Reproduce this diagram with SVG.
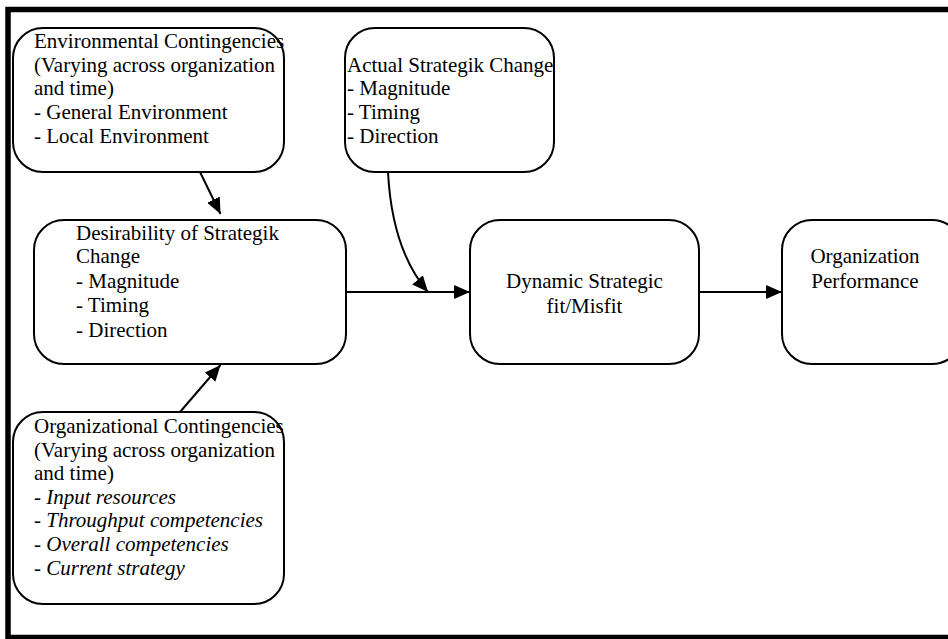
<svg xmlns="http://www.w3.org/2000/svg" width="948" height="639" viewBox="0 0 948 639">
<style>
.box{fill:#fff;stroke:#000;stroke-width:2}
.t{font-family:"Liberation Serif","Times New Roman",serif;font-size:21px;fill:#000}
.i{font-style:italic}
.c{stroke:#000;stroke-width:2;fill:none}
</style>
<defs>
<marker id="ah" viewBox="0 0 16 14" refX="16" refY="7" markerWidth="16" markerHeight="14" markerUnits="userSpaceOnUse" orient="auto">
<path d="M0,0 L16,7 L0,14 Z" fill="#000"/>
</marker>
</defs>
<rect x="0" y="0" width="948" height="639" fill="#fff"/>
<rect x="8" y="9.5" width="960" height="628" fill="none" stroke="#000" stroke-width="5.5"/>

<g id="env">
<rect class="box" x="13" y="28" width="271" height="144" rx="30"/>
<text class="t" x="34" y="48">Environmental Contingencies</text>
<text class="t" x="34" y="72">(Varying across organization</text>
<text class="t" x="34" y="95">and time)</text>
<text class="t" x="34" y="119">- General Environment</text>
<text class="t" x="34" y="143">- Local Environment</text>
</g>

<g id="actual">
<rect class="box" x="345" y="28" width="209" height="144" rx="30"/>
<text class="t" x="347" y="72">Actual Strategik Change</text>
<text class="t" x="347" y="95">- Magnitude</text>
<text class="t" x="347" y="119">- Timing</text>
<text class="t" x="347" y="143">- Direction</text>
</g>

<g id="desir">
<rect class="box" x="34" y="220" width="312" height="144" rx="30"/>
<text class="t" x="76" y="240">Desirability of Strategik</text>
<text class="t" x="76" y="263">Change</text>
<text class="t" x="76" y="288">- Magnitude</text>
<text class="t" x="76" y="312">- Timing</text>
<text class="t" x="76" y="337">- Direction</text>
</g>

<g id="dyn">
<rect class="box" x="470" y="220" width="229" height="144" rx="30"/>
<text class="t" x="584.5" y="288" text-anchor="middle">Dynamic Strategic</text>
<text class="t" x="584.5" y="313" text-anchor="middle">fit/Misfit</text>
</g>

<g id="perf">
<rect class="box" x="782" y="220" width="180" height="144" rx="30"/>
<text class="t" x="865" y="263" text-anchor="middle">Organization</text>
<text class="t" x="865" y="288" text-anchor="middle">Performance</text>
</g>

<g id="org">
<rect class="box" x="13" y="412" width="271" height="192" rx="30"/>
<text class="t" x="34" y="433">Organizational Contingencies</text>
<text class="t" x="34" y="457">(Varying across organization</text>
<text class="t" x="34" y="480">and time)</text>
<text class="t" x="34" y="504">- <tspan class="i">Input resources</tspan></text>
<text class="t" x="34" y="527">- <tspan class="i">Throughput competencies</tspan></text>
<text class="t" x="34" y="551">- <tspan class="i">Overall competencies</tspan></text>
<text class="t" x="34" y="575">- <tspan class="i">Current strategy</tspan></text>
</g>

<g id="connectors">
<line class="c" x1="200" y1="172" x2="220.5" y2="214" marker-end="url(#ah)"/>
<line class="c" x1="180" y1="412" x2="220.5" y2="365" marker-end="url(#ah)"/>
<line class="c" x1="346" y1="292" x2="470" y2="292" marker-end="url(#ah)"/>
<path class="c" d="M388,172 Q392,250 428,292" marker-end="url(#ah)"/>
<line class="c" x1="699" y1="292" x2="782" y2="292" marker-end="url(#ah)"/>
</g>
</svg>
